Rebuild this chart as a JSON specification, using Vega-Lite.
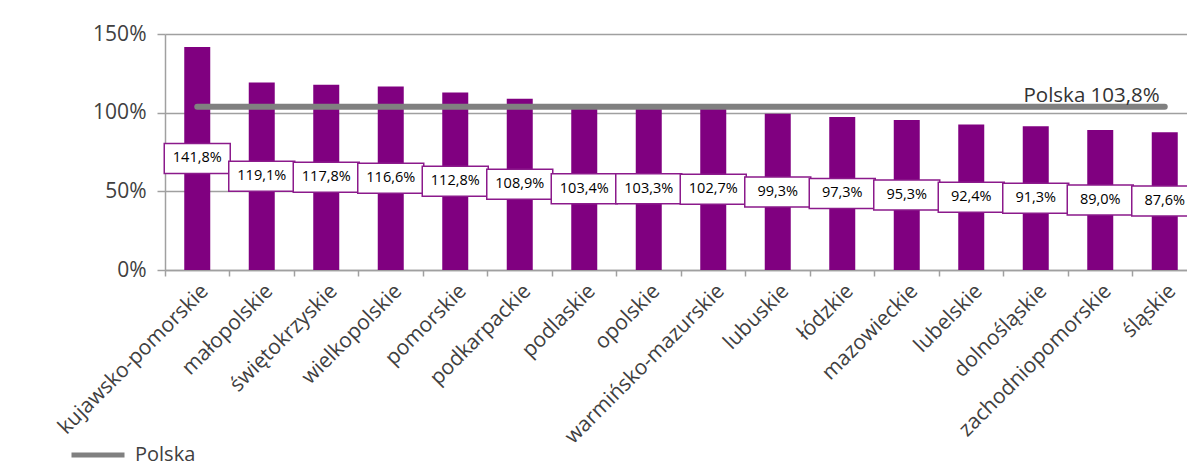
{
  "$schema": "https://vega.github.io/schema/vega-lite/v6.json",
  "autosize": {"type": "none"},
  "padding": {"left": 165, "top": 34, "right": 0, "bottom": 196},
  "width": 1032,
  "height": 236,
  "config": {
    "locale": {"number": {"decimal": ",", "thousands": " ", "grouping": [3], "currency": ["", " zł"]}},
    "view": {"stroke": null},
    "font": "Open Sans"
  },
  "data": {"values": [
    {"region": "kujawsko-pomorskie", "v": 1.418, "polska": 1.038},
    {"region": "małopolskie", "v": 1.191, "polska": 1.038},
    {"region": "świętokrzyskie", "v": 1.178, "polska": 1.038},
    {"region": "wielkopolskie", "v": 1.166, "polska": 1.038},
    {"region": "pomorskie", "v": 1.128, "polska": 1.038},
    {"region": "podkarpackie", "v": 1.089, "polska": 1.038},
    {"region": "podlaskie", "v": 1.034, "polska": 1.038},
    {"region": "opolskie", "v": 1.033, "polska": 1.038},
    {"region": "warmińsko-mazurskie", "v": 1.027, "polska": 1.038},
    {"region": "lubuskie", "v": 0.993, "polska": 1.038},
    {"region": "łódzkie", "v": 0.973, "polska": 1.038},
    {"region": "mazowieckie", "v": 0.953, "polska": 1.038},
    {"region": "lubelskie", "v": 0.924, "polska": 1.038},
    {"region": "dolnośląskie", "v": 0.913, "polska": 1.038},
    {"region": "zachodniopomorskie", "v": 0.890, "polska": 1.038},
    {"region": "śląskie", "v": 0.876, "polska": 1.038}
  ]},
  "encoding": {
    "x": {
      "field": "region", "type": "nominal", "sort": null,
      "scale": {"paddingInner": 0, "paddingOuter": 0},
      "axis": {
        "title": null, "labelAngle": -45, "labelFontSize": 21, "labelColor": "#404040",
        "domainColor": "#a0a0a0", "tickColor": "#a0a0a0", "tickSize": 6, "bandPosition": 0,
        "labelPadding": 4, "domainWidth": 1.5, "tickWidth": 1.5, "labelLimit": 400
      }
    }
  },
  "layer": [
    {
      "mark": {"type": "bar", "color": "#800080", "width": 26},
      "encoding": {
        "y": {
          "field": "v", "type": "quantitative",
          "scale": {"domain": [0, 1.5], "nice": false},
          "axis": {
            "title": null, "format": ".0%", "values": [0, 0.5, 1, 1.5],
            "labelFontSize": 21, "labelColor": "#404040", "labelPadding": 11,
            "domainColor": "#a0a0a0", "tickColor": "#a0a0a0", "tickSize": 8,
            "gridColor": "#a0a0a0", "gridWidth": 1.5, "domainWidth": 1.5, "tickWidth": 1.5
          }
        }
      }
    },
    {
      "mark": {"type": "line", "strokeWidth": 6, "strokeCap": "round"},
      "encoding": {
        "y": {"field": "polska", "type": "quantitative"},
        "color": {
          "datum": "Polska",
          "scale": {"range": ["#808080"]},
          "legend": {
            "title": null, "orient": "none", "legendX": -96, "legendY": 392,
            "symbolType": "stroke", "symbolSize": 2809, "symbolStrokeWidth": 5,
            "labelFontSize": 20, "labelColor": "#404040", "labelOffset": 8
          }
        }
      }
    },
    {
      "transform": [{"calculate": "datum.v / 2", "as": "mid"}],
      "mark": {"type": "bar", "width": 66, "fill": "white", "stroke": "#8b1a8b", "strokeWidth": 1.5, "yOffset": -15, "y2Offset": 15},
      "encoding": {
        "y": {"field": "mid", "type": "quantitative"},
        "y2": {"field": "mid"}
      }
    },
    {
      "transform": [{"calculate": "datum.v / 2", "as": "mid"}],
      "mark": {"type": "text", "fontSize": 14.5, "color": "#000000", "baseline": "middle", "align": "center"},
      "encoding": {
        "y": {"field": "mid", "type": "quantitative"},
        "text": {"field": "v", "type": "quantitative", "format": ".1%"}
      }
    },
    {
      "data": {"values": [{"label": "Polska 103,8%"}]},
      "mark": {"type": "text", "fontSize": 20.5, "color": "#333333", "align": "right", "baseline": "bottom", "dx": -5, "dy": -1},
      "encoding": {
        "x": {"datum": "śląskie"},
        "y": {"datum": 1.038},
        "text": {"field": "label"}
      }
    }
  ]
}
